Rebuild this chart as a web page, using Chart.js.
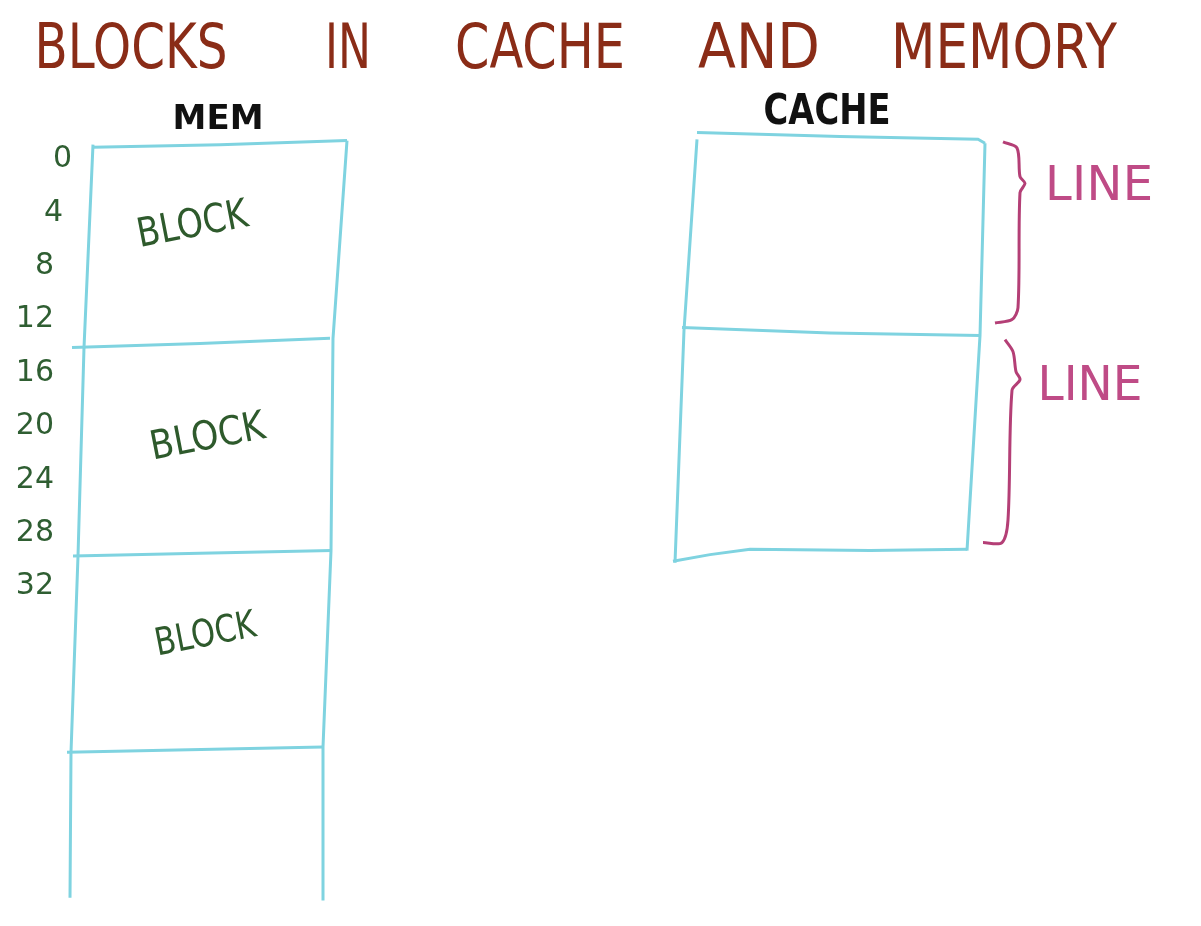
<!DOCTYPE html>
<html>
<head>
<meta charset="utf-8">
<title>Blocks in cache and memory</title>
<script src="https://cdn.jsdelivr.net/npm/chart.js@4.4.1/dist/chart.umd.min.js"></script>
<style>
  html, body { margin: 0; padding: 0; background: #fff; }
  #wrap { width: 1201px; height: 926px; }
</style>
</head>
<body>
<div id="wrap"><canvas id="board" width="1201" height="926"></canvas></div>
<script>
// byte addresses written down the left of the memory column
var addressTicks = [0, 4, 8, 12, 16, 20, 24, 28, 32];

// memory column strokes: x runs across the board, y is the byte address
var memTop    = [{x: 93, y: -0.9}, {x: 220, y: -1.1}, {x: 347, y: -1.4}];
var memLine16 = [{x: 72, y: 14.1}, {x: 200, y: 13.8}, {x: 330, y: 13.4}];
var memLine32 = [{x: 73, y: 29.7}, {x: 200, y: 29.5}, {x: 332, y: 29.3}];
var memLine48 = [{x: 67, y: 44.4}, {x: 323, y: 44.0}];
var memLeft   = [{x: 93, y: -1.1}, {x: 84, y: 14.1}, {x: 78, y: 29.7}, {x: 71, y: 44.4}, {x: 70, y: 55.3}];
var memRight  = [{x: 347, y: -1.4}, {x: 333, y: 13.4}, {x: 331, y: 29.3}, {x: 323, y: 44.0}, {x: 323, y: 55.5}];

// cache column strokes (two lines)
var cacheTop    = [{x: 697, y: -2.0}, {x: 840, y: -1.7}, {x: 978, y: -1.5}, {x: 985, y: -1.2}];
var cacheMid    = [{x: 682, y: 12.6}, {x: 830, y: 13.0}, {x: 980, y: 13.2}];
var cacheBottom = [{x: 673, y: 30.1}, {x: 710, y: 29.6}, {x: 750, y: 29.2}, {x: 870, y: 29.3}, {x: 967, y: 29.2}];
var cacheLeft   = [{x: 697, y: -1.5}, {x: 684, y: 12.8}, {x: 675, y: 30.2}];
var cacheRight  = [{x: 985, y: -1.2}, {x: 980, y: 13.2}, {x: 967, y: 29.3}];

// curly braces marking each cache line
var brace1 = [{x: 1003, y: -1.3}, {x: 1017, y: -0.85}, {x: 1020, y: 1.3}, {x: 1025, y: 1.8},
              {x: 1020, y: 2.5}, {x: 1018, y: 11.1}, {x: 1012, y: 12.0}, {x: 995, y: 12.25}];
var brace2 = [{x: 1005, y: 13.5}, {x: 1013, y: 14.4}, {x: 1016, y: 15.9}, {x: 1020, y: 16.5},
              {x: 1012, y: 17.3}, {x: 1008, y: 27.0}, {x: 1002, y: 28.7}, {x: 983, y: 28.7}];

var CYAN = '#7fd3e0';
var PINK = '#b43f76';

function stroke(points, color, curve) {
    return {
        data: points,
        showLine: true,
        borderColor: color,
        borderWidth: 3,
        pointRadius: 0,
        tension: curve ? 0.3 : 0,
        fill: false
    };
}

// hand written words, placed in board / address units
var notes = [
    {t: 'BLOCKS', x: 131, y: -8.5, w: 193, size: 62, color: '#8a2c17'},
    {t: 'IN',     x: 348, y: -8.5, w: 46,  size: 62, color: '#8a2c17'},
    {t: 'CACHE',  x: 540, y: -8.5, w: 170, size: 62, color: '#8a2c17'},
    {t: 'AND',    x: 759, y: -8.5, w: 122, size: 62, color: '#8a2c17'},
    {t: 'MEMORY', x: 1004, y: -8.5, w: 226, size: 62, color: '#8a2c17'},
    {t: 'MEM',    x: 218, y: -3.2, w: 91,  size: 34, color: '#111', bold: true},
    {t: 'CACHE',  x: 827, y: -3.8, w: 127, size: 42, color: '#111', bold: true},
    {t: 'BLOCK',  x: 192, y: 4.7,  w: 112, size: 40, color: '#2e5a2c', angle: -11},
    {t: 'BLOCK',  x: 207, y: 20.6, w: 116, size: 40, color: '#2e5a2c', angle: -11},
    {t: 'BLOCK',  x: 205, y: 35.4, w: 102, size: 38, color: '#2e5a2c', angle: -11},
    {t: 'LINE',   x: 1099, y: 1.7, w: 108, size: 48, color: '#bf4b86'},
    {t: 'LINE',   x: 1090, y: 16.7, w: 105, size: 48, color: '#bf4b86'}
];

function drawWord(ctx, n, px, py) {
    ctx.save();
    ctx.font = (n.bold ? 'bold ' : '') + n.size + 'px "DejaVu Sans", sans-serif';
    ctx.fillStyle = n.color;
    ctx.textAlign = 'left';
    ctx.textBaseline = 'alphabetic';
    ctx.translate(px, py);
    if (n.angle) ctx.rotate(n.angle * Math.PI / 180);
    if ('letterSpacing' in ctx) ctx.letterSpacing = '0px';
    var natural = ctx.measureText(n.t).width;
    var gap = n.t.length > 1 ? (n.w - natural) / (n.t.length - 1) : 0;
    if (gap < 0 || !('letterSpacing' in ctx)) {
        ctx.scale(n.w / natural, 1);
        ctx.fillText(n.t, -natural / 2, n.size * 0.365);
    } else {
        ctx.letterSpacing = gap + 'px';
        ctx.fillText(n.t, -n.w / 2, n.size * 0.365);
    }
    ctx.restore();
}

var boardText = {
    id: 'boardText',
    afterDatasetsDraw: function (chart) {
        var ctx = chart.ctx;
        var xs = chart.scales.x, ys = chart.scales.y;
        notes.forEach(function (n) {
            drawWord(ctx, n, xs.getPixelForValue(n.x), ys.getPixelForValue(n.y));
        });
        // address labels beside the memory column
        ctx.save();
        ctx.font = '30px "DejaVu Sans", sans-serif';
        ctx.fillStyle = '#2f5e32';
        ctx.textAlign = 'right';
        ctx.textBaseline = 'middle';
        addressTicks.forEach(function (a, i) {
            var right = i === 0 ? 72 : (i === 1 ? 63 : 54);
            ctx.fillText(String(a), xs.getPixelForValue(right), ys.getPixelForValue(a));
        });
        ctx.restore();
    }
};

new Chart(document.getElementById('board').getContext('2d'), {
    type: 'scatter',
    data: {
        datasets: [
            stroke(memTop, CYAN), stroke(memLine16, CYAN), stroke(memLine32, CYAN), stroke(memLine48, CYAN),
            stroke(memLeft, CYAN), stroke(memRight, CYAN),
            stroke(cacheTop, CYAN), stroke(cacheMid, CYAN), stroke(cacheBottom, CYAN),
            stroke(cacheLeft, CYAN), stroke(cacheRight, CYAN),
            stroke(brace1, PINK, true), stroke(brace2, PINK, true)
        ]
    },
    options: {
        responsive: false,
        animation: false,
        layout: { padding: 0 },
        plugins: { legend: { display: false }, tooltip: { enabled: false }, title: { display: false } },
        scales: {
            x: { type: 'linear', min: 0, max: 1201, display: false },
            y: { type: 'linear', min: -11.93, max: 57.41, reverse: true, display: false }
        }
    },
    plugins: [boardText]
});
</script>
</body>
</html>
